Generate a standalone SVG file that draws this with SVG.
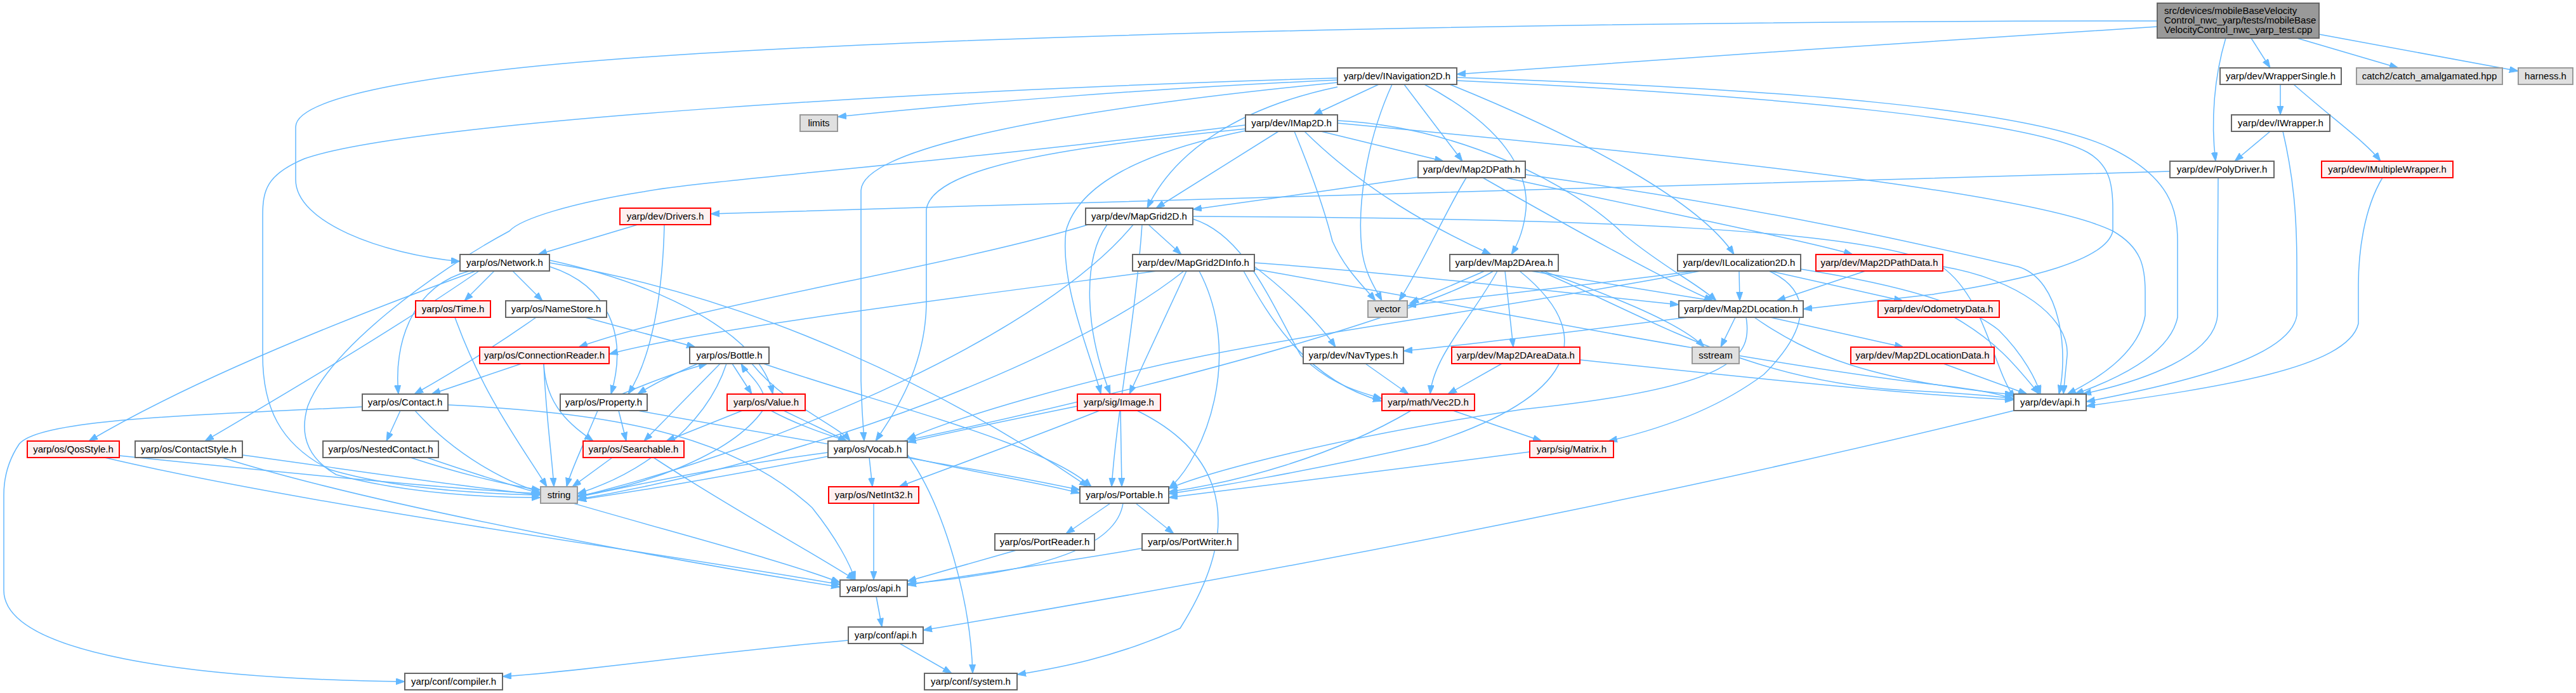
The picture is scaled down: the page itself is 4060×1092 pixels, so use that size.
<svg xmlns="http://www.w3.org/2000/svg" width="4060" height="1092" viewBox="0 0 4060 1092">
<defs>
<style>
.n rect{fill:#ffffff;stroke:#666666;stroke-width:2}
.r rect{fill:#fff0f0;stroke:#ff0000;stroke-width:2}
.g rect{fill:#e0e0e0;stroke:#999999;stroke-width:2}
.root rect{fill:#999999;stroke:#666666;stroke-width:2}
text{font-family:"Liberation Sans",Arial,sans-serif;font-size:15px;fill:#000000;text-anchor:middle}
.root text{text-anchor:start}
#edges path{fill:none;stroke:#63b8ff;stroke-width:1.5;marker-end:url(#ah)}
</style>
<marker id="ah" markerUnits="userSpaceOnUse" markerWidth="16" markerHeight="12" refX="14" refY="5" orient="auto"><path d="M0,0 L14,5 L0,10 z" fill="#63b8ff" stroke="#63b8ff"/></marker>
</defs>
<rect x="0" y="0" width="4060" height="1092" fill="#ffffff"/>
<g id="edges">
<path d="M3400,42 C3100,60 2600,95 2296,117"/>
<path d="M3400,33 C2600,33 1600,50 1015,90 C700,112 466,150 466,200 L466,283 C466,350 600,400 725,412"/>
<path d="M3508,60 C3490,120 3484,190 3492,254"/>
<path d="M3548,60 L3578,107"/>
<path d="M3620,60 L3780,107"/>
<path d="M3655,54 L3969,112"/>
<path d="M3594,133 L3594,181"/>
<path d="M3615,133 C3680,190 3730,225 3752,254"/>
<path d="M3578,207 L3522,254"/>
<path d="M3598,207 C3615,280 3620,340 3620,420 L3620,497 C3610,560 3460,600 3288,633"/>
<path d="M3420,270 C3000,283 2000,310 1120,337"/>
<path d="M3496,280 C3496,330 3495,380 3495,430 L3495,497 C3490,560 3380,600 3282,621"/>
<path d="M3755,280 C3725,330 3717,400 3717,450 L3717,510 C3700,580 3500,610 3288,640"/>
<path d="M2108,126 C1800,140 1500,165 1320,184"/>
<path d="M2173,133 L2070,181"/>
<path d="M2213,133 L2305,254"/>
<path d="M2245,133 C2370,200 2410,270 2405,330 C2402,360 2392,385 2382,401"/>
<path d="M2285,133 C2500,220 2680,320 2733,401"/>
<path d="M2194,133 C2150,230 2140,330 2146,390 C2150,430 2168,455 2178,474"/>
<path d="M2108,137 C1950,170 1850,240 1808,328"/>
<path d="M2108,130 C1700,170 1360,230 1357,300 L1357,600 C1358,640 1360,670 1362,695"/>
<path d="M2108,123 C1500,140 650,190 480,250 C420,275 414,300 414,340 L414,560 C414,640 440,700 520,740 C620,770 760,778 852,780"/>
<path d="M2296,122 C2800,140 3200,170 3330,235 C3420,280 3432,330 3432,380 L3432,500 C3420,560 3330,600 3270,621"/>
<path d="M2296,127 C2800,150 3200,190 3290,240 C3325,260 3330,290 3330,330 L3330,364 C3320,410 3200,440 3045,464 L2842,487"/>
<path d="M2040,207 C2070,280 2090,340 2100,380 C2120,425 2150,452 2168,474"/>
<path d="M2056,207 C2150,300 2260,360 2350,401"/>
<path d="M2082,207 L2275,254"/>
<path d="M2108,190 C2300,200 2480,290 2560,370 C2620,420 2680,450 2705,474"/>
<path d="M2108,194 C2600,240 3200,300 3330,364 C3375,390 3381,420 3381,460 L3381,497 C3370,560 3300,600 3258,621"/>
<path d="M2015,207 L1822,328"/>
<path d="M1963,203 C1700,230 1470,260 1460,330 L1460,480 C1458,580 1410,650 1380,695"/>
<path d="M1963,197 C1500,255 1100,285 1015,302 C900,320 820,345 803,364 C680,430 520,550 485,640 C470,690 490,725 530,748 C640,778 770,784 852,784"/>
<path d="M1963,206 C1800,240 1700,290 1680,364 C1670,450 1720,560 1735,621"/>
<path d="M1810,354 L1862,401"/>
<path d="M1745,354 C1705,410 1710,520 1750,621"/>
<path d="M1715,354 C1500,420 1100,480 912,547"/>
<path d="M1880,345 C1960,370 2000,470 2050,560 C2090,600 2130,615 2178,628"/>
<path d="M1880,341 C2500,344 2950,360 3060,420 C3130,470 3140,580 3176,628"/>
<path d="M1786,354 C1650,520 1250,700 910,783"/>
<path d="M1800,354 C1790,500 1760,650 1752,767"/>
<path d="M1824,427 C1500,470 1100,520 960,558"/>
<path d="M1870,427 L1780,621"/>
<path d="M1977,414 C2200,430 2500,465 2646,480"/>
<path d="M1977,420 C2030,460 2080,510 2105,547"/>
<path d="M1960,427 C2000,500 2060,600 2178,632"/>
<path d="M1977,424 C2300,480 2700,560 3000,600 C3100,612 3150,618 3174,630"/>
<path d="M1866,427 C1700,560 1300,720 910,787"/>
<path d="M1890,427 C1960,560 1900,720 1842,770"/>
<path d="M779,427 L732,474"/>
<path d="M808,427 L855,474"/>
<path d="M740,427 C650,450 620,540 628,621"/>
<path d="M750,427 C550,500 300,600 140,695"/>
<path d="M755,427 C620,520 450,620 323,695"/>
<path d="M866,420 C960,450 990,530 963,621"/>
<path d="M866,410 C1050,450 1200,530 1218,621"/>
<path d="M866,414 C1200,470 1500,620 1715,767"/>
<path d="M1005,354 L848,401"/>
<path d="M1047,354 C1045,450 1030,560 990,621"/>
<path d="M845,500 C760,560 690,600 653,621"/>
<path d="M922,500 L1096,547"/>
<path d="M717,500 C760,620 820,700 862,767"/>
<path d="M822,573 L680,621"/>
<path d="M857,573 C860,640 900,670 935,695"/>
<path d="M857,573 C860,650 870,720 873,767"/>
<path d="M1100,573 C1060,590 1030,605 1005,621"/>
<path d="M1154,573 L1185,621"/>
<path d="M1135,573 L1015,695"/>
<path d="M1185,573 C1240,640 1320,670 1340,695"/>
<path d="M1203,573 C1400,640 1650,700 1720,767"/>
<path d="M1145,573 C1110,680 1000,750 910,778"/>
<path d="M980,621 C1030,600 1070,585 1115,573"/>
<path d="M975,647 L987,695"/>
<path d="M942,647 C920,700 900,740 893,767"/>
<path d="M1005,647 C1300,700 1550,740 1702,772"/>
<path d="M1203,621 C1195,600 1175,585 1168,573"/>
<path d="M1170,647 L1050,695"/>
<path d="M1235,647 L1335,695"/>
<path d="M1202,647 C1150,720 1000,770 910,781"/>
<path d="M1215,647 C1350,720 1600,750 1702,777"/>
<path d="M965,721 L902,767"/>
<path d="M1030,721 C1150,800 1280,870 1348,914"/>
<path d="M1370,721 L1375,767"/>
<path d="M1305,713 C1100,740 980,770 910,783"/>
<path d="M1430,716 C1490,800 1530,950 1533,1061"/>
<path d="M1698,640 C1600,660 1480,685 1430,697"/>
<path d="M1733,647 C1600,700 1460,750 1417,767"/>
<path d="M1766,647 L1768,767"/>
<path d="M1792,647 C1900,700 1980,800 1860,990 C1750,1040 1650,1055 1603,1063"/>
<path d="M631,647 L609,695"/>
<path d="M654,647 C720,720 800,760 852,776"/>
<path d="M571,641 C300,655 60,660 30,700 C10,730 6,760 6,780 L6,930 C6,1030 300,1070 638,1074"/>
<path d="M706,638 C950,650 1150,680 1280,800 C1320,850 1340,890 1348,914"/>
<path d="M188,718 C400,740 700,770 852,778"/>
<path d="M165,721 C500,800 1100,880 1324,921"/>
<path d="M382,717 C550,740 750,770 852,780"/>
<path d="M350,721 C600,800 1100,890 1324,925"/>
<path d="M647,721 C720,745 800,765 852,772"/>
<path d="M673,721 C900,800 1200,870 1324,918"/>
<path d="M1377,793 L1377,914"/>
<path d="M1750,793 L1680,841"/>
<path d="M1790,793 L1850,841"/>
<path d="M1770,793 C1760,860 1650,900 1430,920"/>
<path d="M1602,867 L1430,916"/>
<path d="M1800,864 C1650,890 1500,910 1430,922"/>
<path d="M1381,940 L1390,988"/>
<path d="M1337,1009 C1100,1030 900,1060 792,1066"/>
<path d="M1418,1014 L1500,1061"/>
<path d="M3174,647 C2800,740 2200,870 1455,993"/>
<path d="M2290,647 L2430,695"/>
<path d="M2224,647 C2100,720 1950,760 1842,775"/>
<path d="M2411,712 C2200,740 1950,770 1842,784"/>
<path d="M2152,573 L2220,621"/>
<path d="M2367,573 L2282,621"/>
<path d="M2490,567 C2800,600 3050,625 3174,630"/>
<path d="M2340,427 L2222,478"/>
<path d="M2360,427 C2320,500 2260,560 2254,621"/>
<path d="M2372,427 L2385,547"/>
<path d="M2412,427 L2700,474"/>
<path d="M2432,427 C2550,470 2650,510 2686,547"/>
<path d="M2427,427 C2600,500 2750,600 3000,615 C3100,620 3150,625 3174,628"/>
<path d="M2395,427 C2510,520 2500,620 2250,700 C2050,745 1900,770 1842,778"/>
<path d="M2354,427 C2200,520 1500,700 910,788"/>
<path d="M2672,427 C2500,450 2300,470 2218,482"/>
<path d="M2741,427 L2742,474"/>
<path d="M2790,427 L2999,474"/>
<path d="M2788,427 C2860,460 2850,520 2780,590 C2700,650 2600,680 2535,695"/>
<path d="M2838,424 C3000,450 3100,480 3150,520 C3190,560 3210,600 3216,621"/>
<path d="M2680,427 C2400,480 2100,520 1900,560 C1700,600 1500,660 1430,692"/>
<path d="M2235,279 C2100,300 1950,320 1880,330"/>
<path d="M2311,280 C2280,330 2240,420 2205,474"/>
<path d="M2337,280 C2460,350 2620,440 2700,474"/>
<path d="M2373,280 C2600,330 2850,380 2920,401"/>
<path d="M2404,275 C2800,330 3050,390 3180,420 C3250,440 3260,560 3245,621"/>
<path d="M2940,427 L2800,474"/>
<path d="M3062,420 C3180,440 3262,500 3258,560 L3252,621"/>
<path d="M2660,500 C2500,520 2300,545 2212,553"/>
<path d="M2735,500 L2712,547"/>
<path d="M2790,500 L3000,547"/>
<path d="M2765,500 C2850,560 2950,600 3174,622"/>
<path d="M2752,500 C2762,560 2740,610 2400,645 C2100,690 1900,745 1842,770"/>
<path d="M3080,500 C3150,540 3180,580 3214,621"/>
<path d="M3063,573 L3195,621"/>
</g>
<g id="n_root" class="root"><rect x="3400" y="5" width="255" height="55"/><text x="3411" y="22">src/devices/mobileBaseVelocity</text><text x="3411" y="37">Control_nwc_yarp/tests/mobileBase</text><text x="3411" y="52">VelocityControl_nwc_yarp_test.cpp</text></g>
<g id="n_inav" class="n"><rect x="2108" y="107" width="188" height="26"/><text x="2202" y="125">yarp/dev/INavigation2D.h</text></g>
<g id="n_wsingle" class="n"><rect x="3499" y="107" width="191" height="26"/><text x="3594.5" y="125">yarp/dev/WrapperSingle.h</text></g>
<g id="n_catch2" class="g"><rect x="3714" y="107" width="230" height="26"/><text x="3829" y="125">catch2/catch_amalgamated.hpp</text></g>
<g id="n_harness" class="g"><rect x="3969" y="107" width="86" height="26"/><text x="4012" y="125">harness.h</text></g>
<g id="n_limits" class="g"><rect x="1261" y="181" width="59" height="26"/><text x="1290.5" y="199">limits</text></g>
<g id="n_imap2d" class="n"><rect x="1963" y="181" width="145" height="26"/><text x="2035.5" y="199">yarp/dev/IMap2D.h</text></g>
<g id="n_iwrapper" class="n"><rect x="3517" y="181" width="155" height="26"/><text x="3594.5" y="199">yarp/dev/IWrapper.h</text></g>
<g id="n_map2dpath" class="n"><rect x="2235" y="254" width="169" height="26"/><text x="2319.5" y="272">yarp/dev/Map2DPath.h</text></g>
<g id="n_polydriver" class="n"><rect x="3420" y="254" width="164" height="26"/><text x="3502" y="272">yarp/dev/PolyDriver.h</text></g>
<g id="n_imultiple" class="r"><rect x="3659" y="254" width="207" height="26"/><text x="3762.5" y="272">yarp/dev/IMultipleWrapper.h</text></g>
<g id="n_drivers" class="r"><rect x="977" y="328" width="143" height="26"/><text x="1048.5" y="346">yarp/dev/Drivers.h</text></g>
<g id="n_mapgrid2d" class="n"><rect x="1711" y="328" width="169" height="26"/><text x="1795.5" y="346">yarp/dev/MapGrid2D.h</text></g>
<g id="n_network" class="n"><rect x="725" y="401" width="141" height="26"/><text x="795.5" y="419">yarp/os/Network.h</text></g>
<g id="n_mapgrid2dinfo" class="n"><rect x="1785" y="401" width="192" height="26"/><text x="1881" y="419">yarp/dev/MapGrid2DInfo.h</text></g>
<g id="n_map2darea" class="n"><rect x="2285" y="401" width="171" height="26"/><text x="2370.5" y="419">yarp/dev/Map2DArea.h</text></g>
<g id="n_ilocalization2d" class="n"><rect x="2644" y="401" width="194" height="26"/><text x="2741" y="419">yarp/dev/ILocalization2D.h</text></g>
<g id="n_map2dpathdata" class="r"><rect x="2862" y="401" width="200" height="26"/><text x="2962" y="419">yarp/dev/Map2DPathData.h</text></g>
<g id="n_time" class="r"><rect x="655" y="474" width="118" height="26"/><text x="714" y="492">yarp/os/Time.h</text></g>
<g id="n_namestore" class="n"><rect x="797" y="474" width="159" height="26"/><text x="876.5" y="492">yarp/os/NameStore.h</text></g>
<g id="n_vector" class="g"><rect x="2156" y="474" width="62" height="26"/><text x="2187" y="492">vector</text></g>
<g id="n_map2dlocation" class="n"><rect x="2646" y="474" width="196" height="26"/><text x="2744" y="492">yarp/dev/Map2DLocation.h</text></g>
<g id="n_odometrydata" class="r"><rect x="2960" y="474" width="191" height="26"/><text x="3055.5" y="492">yarp/dev/OdometryData.h</text></g>
<g id="n_connectionreader" class="r"><rect x="756" y="547" width="204" height="26"/><text x="858" y="565">yarp/os/ConnectionReader.h</text></g>
<g id="n_bottle" class="n"><rect x="1087" y="547" width="125" height="26"/><text x="1149.5" y="565">yarp/os/Bottle.h</text></g>
<g id="n_navtypes" class="n"><rect x="2054" y="547" width="158" height="26"/><text x="2133" y="565">yarp/dev/NavTypes.h</text></g>
<g id="n_map2dareadata" class="r"><rect x="2288" y="547" width="202" height="26"/><text x="2389" y="565">yarp/dev/Map2DAreaData.h</text></g>
<g id="n_sstream" class="g"><rect x="2667" y="547" width="74" height="26"/><text x="2704" y="565">sstream</text></g>
<g id="n_map2dlocationdata" class="r"><rect x="2917" y="547" width="226" height="26"/><text x="3030" y="565">yarp/dev/Map2DLocationData.h</text></g>
<g id="n_contact" class="n"><rect x="571" y="621" width="135" height="26"/><text x="638.5" y="639">yarp/os/Contact.h</text></g>
<g id="n_property" class="n"><rect x="883" y="621" width="137" height="26"/><text x="951.5" y="639">yarp/os/Property.h</text></g>
<g id="n_value" class="r"><rect x="1146" y="621" width="123" height="26"/><text x="1207.5" y="639">yarp/os/Value.h</text></g>
<g id="n_image" class="r"><rect x="1698" y="621" width="131" height="26"/><text x="1763.5" y="639">yarp/sig/Image.h</text></g>
<g id="n_vec2d" class="r"><rect x="2178" y="621" width="146" height="26"/><text x="2251" y="639">yarp/math/Vec2D.h</text></g>
<g id="n_devapi" class="n"><rect x="3174" y="621" width="114" height="26"/><text x="3231" y="639">yarp/dev/api.h</text></g>
<g id="n_qosstyle" class="r"><rect x="43" y="695" width="145" height="26"/><text x="115.5" y="713">yarp/os/QosStyle.h</text></g>
<g id="n_contactstyle" class="n"><rect x="213" y="695" width="169" height="26"/><text x="297.5" y="713">yarp/os/ContactStyle.h</text></g>
<g id="n_nestedcontact" class="n"><rect x="509" y="695" width="182" height="26"/><text x="600" y="713">yarp/os/NestedContact.h</text></g>
<g id="n_searchable" class="r"><rect x="919" y="695" width="159" height="26"/><text x="998.5" y="713">yarp/os/Searchable.h</text></g>
<g id="n_vocab" class="n"><rect x="1305" y="695" width="125" height="26"/><text x="1367.5" y="713">yarp/os/Vocab.h</text></g>
<g id="n_matrix" class="r"><rect x="2411" y="695" width="132" height="26"/><text x="2477" y="713">yarp/sig/Matrix.h</text></g>
<g id="n_string" class="g"><rect x="852" y="767" width="58" height="26"/><text x="881" y="785">string</text></g>
<g id="n_netint32" class="r"><rect x="1306" y="767" width="142" height="26"/><text x="1377" y="785">yarp/os/NetInt32.h</text></g>
<g id="n_portable" class="n"><rect x="1702" y="767" width="140" height="26"/><text x="1772" y="785">yarp/os/Portable.h</text></g>
<g id="n_portreader" class="n"><rect x="1568" y="841" width="157" height="26"/><text x="1646.5" y="859">yarp/os/PortReader.h</text></g>
<g id="n_portwriter" class="n"><rect x="1800" y="841" width="151" height="26"/><text x="1875.5" y="859">yarp/os/PortWriter.h</text></g>
<g id="n_osapi" class="n"><rect x="1324" y="914" width="106" height="26"/><text x="1377" y="932">yarp/os/api.h</text></g>
<g id="n_confapi" class="n"><rect x="1337" y="988" width="118" height="26"/><text x="1396" y="1006">yarp/conf/api.h</text></g>
<g id="n_compiler" class="n"><rect x="638" y="1061" width="154" height="26"/><text x="715" y="1079">yarp/conf/compiler.h</text></g>
<g id="n_system" class="n"><rect x="1457" y="1061" width="146" height="26"/><text x="1530" y="1079">yarp/conf/system.h</text></g>
</svg>
